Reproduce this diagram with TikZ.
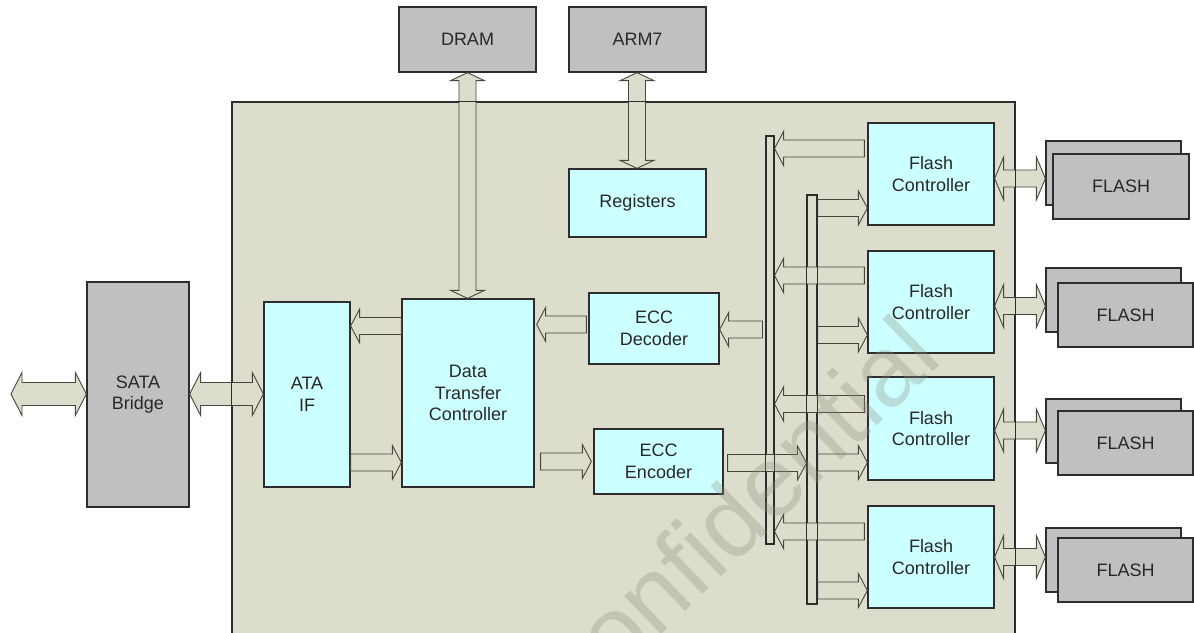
\documentclass[tikz,border=0pt]{standalone}
\usepackage{fontspec}
\setmainfont{Liberation Sans}
\usetikzlibrary{calc}
\definecolor{bgc}{RGB}{221,221,205}
\definecolor{grayf}{RGB}{192,192,192}
\definecolor{cyanf}{RGB}{204,255,255}
\definecolor{linec}{RGB}{45,45,45}
\definecolor{arrline}{RGB}{70,70,60}
\definecolor{txtc}{RGB}{40,40,40}
\definecolor{wmc}{RGB}{140,140,125}
\def\arS{8.5}\def\arH{17}\def\arL{9}
\newcommand\fatR[3]{\path[fat] let \p1=#1, \p2=#2, \p3=(0,#3) in
 (\x1,\y3+\arS pt) -- (\x2-\arL pt,\y3+\arS pt) -- (\x2-\arL pt,\y3+\arH pt) -- (\x2,\y3) -- (\x2-\arL pt,\y3-\arH pt) -- (\x2-\arL pt,\y3-\arS pt) -- (\x1,\y3-\arS pt) -- cycle;}
\newcommand\fatL[3]{\path[fat] let \p1=#1, \p2=#2, \p3=(0,#3) in
 (\x2,\y3+\arS pt) -- (\x1+\arL pt,\y3+\arS pt) -- (\x1+\arL pt,\y3+\arH pt) -- (\x1,\y3) -- (\x1+\arL pt,\y3-\arH pt) -- (\x1+\arL pt,\y3-\arS pt) -- (\x2,\y3-\arS pt) -- cycle;}
\newcommand\fatLR[3]{\path[fat] let \p1=#1, \p2=#2, \p3=(0,#3) in
 (\x1,\y3) -- (\x1+\arL pt,\y3+\arH pt) -- (\x1+\arL pt,\y3+\arS pt) -- (\x2-\arL pt,\y3+\arS pt) -- (\x2-\arL pt,\y3+\arH pt) -- (\x2,\y3) -- (\x2-\arL pt,\y3-\arH pt) -- (\x2-\arL pt,\y3-\arS pt) -- (\x1+\arL pt,\y3-\arS pt) -- (\x1+\arL pt,\y3-\arH pt) -- cycle;}
\newcommand\fatUD[3]{\path[fat] let \p1=#1, \p2=#2, \p3=(#3,0) in
 (\x3,\y1) -- (\x3+\arH pt,\y1-\arL pt) -- (\x3+\arS pt,\y1-\arL pt) -- (\x3+\arS pt,\y2+\arL pt) -- (\x3+\arH pt,\y2+\arL pt) -- (\x3,\y2) -- (\x3-\arH pt,\y2+\arL pt) -- (\x3-\arS pt,\y2+\arL pt) -- (\x3-\arS pt,\y1-\arL pt) -- (\x3-\arH pt,\y1-\arL pt) -- cycle;}
\begin{document}
\begin{tikzpicture}[x=1pt,y=-1pt,
  fat/.style={draw=arrline, fill=bgc, line width=0.9pt, line join=miter},
  box/.style={draw=linec, line width=1.3pt, inner sep=0pt, align=center, text=txtc,
    font=\fontsize{18}{21.6}\selectfont},
  gbox/.style={box, fill=grayf},
  cbox/.style={box, fill=cyanf},
  bar/.style={draw=linec, line width=1.1pt, inner sep=0pt},
  chip/.style={draw=linec, line width=1.3pt, fill=bgc, inner sep=0pt}]
\useasboundingbox (0,0) rectangle (1194,632);
\clip (0,0) rectangle (1194,632);
\fill[white] (0,0) rectangle (1194,632);
% main chip area
\node[chip, minimum width=783pt, minimum height=548pt] (chip) at (623.5,376) {};
% external boxes
\node[gbox, minimum width=102pt, minimum height=225pt] (sata) at (138,394.5) {SATA\\Bridge};
\node[gbox, minimum width=137pt, minimum height=65pt] (dram) at (467.5,39.5) {DRAM};
\node[gbox, minimum width=137pt, minimum height=65pt] (arm) at (637.5,39.5) {ARM7};
% internal boxes
\node[cbox, minimum width=86pt, minimum height=185pt] (ata) at (307,394.5) {ATA\\IF};
\node[cbox, minimum width=132pt, minimum height=188pt] (dtc) at (468,393) {Data\\Transfer\\Controller};
\node[cbox, minimum width=130pt, minimum height=71pt] (dec) at (654,328.5) {ECC\\Decoder};
\node[cbox, minimum width=129pt, minimum height=65pt] (enc) at (658.5,461.5) {ECC\\Encoder};
\node[cbox, minimum width=137pt, minimum height=68pt] (reg) at (637.5,203) {Registers};
% flash controllers
\node[cbox, minimum width=126pt, minimum height=102pt] (fc1) at (931,174) {Flash\\Controller};
\node[cbox, minimum width=126pt, minimum height=102pt] (fc2) at (931,302) {Flash\\Controller};
\node[cbox, minimum width=126pt, minimum height=103pt] (fc3) at (931,428.5) {Flash\\Controller};
\node[cbox, minimum width=126pt, minimum height=102pt] (fc4) at (931,557) {Flash\\Controller};
% flash chips (back and front)
\node[gbox, minimum width=135pt, minimum height=64pt] (fb1) at (1113.5,173) {};
\node[gbox, minimum width=136pt, minimum height=65pt] (ff1) at (1121,186.5) {FLASH};
\node[gbox, minimum width=135pt, minimum height=64pt] (fb2) at (1113.5,300) {};
\node[gbox, minimum width=135pt, minimum height=64pt] (ff2) at (1125.5,315) {FLASH};
\node[gbox, minimum width=135pt, minimum height=64pt] (fb3) at (1113.5,431) {};
\node[gbox, minimum width=135pt, minimum height=64pt] (ff3) at (1125.5,443) {FLASH};
\node[gbox, minimum width=135pt, minimum height=64pt] (fb4) at (1113.5,560) {};
\node[gbox, minimum width=135pt, minimum height=64pt] (ff4) at (1125.5,570) {FLASH};
% buses
\node[bar, minimum width=8pt, minimum height=408pt] (bus1) at (770,340) {};
\node[bar, minimum width=10pt, minimum height=409pt] (bus2) at (812,399.5) {};
\coordinate (ext) at (11,394);
% ---- arrows ----
\def\arS{11.5}\def\arH{21.5}\def\arL{11}
\fatLR{(ext)}{(sata.west)}{394}
\fatLR{(sata.east)}{(ata.west)}{394}
\def\arS{8.5}\def\arH{17}\def\arL{9}
\fatL{(ata.east)}{(dtc.west)}{326}
\fatR{(ata.east)}{(dtc.west)}{462.5}
\fatL{([xshift=2pt]dtc.east)}{([xshift=-2pt]dec.west)}{324.5}
\fatL{(dec.east)}{([xshift=-3pt]bus1.west)}{329.5}
\fatR{([xshift=6pt]dtc.east)}{([xshift=-2pt]enc.west)}{461.5}
\fatR{([xshift=4pt]enc.east)}{(bus2.west)}{463}
\fatL{(bus1.east)}{([xshift=-3pt]fc1.west)}{148.5}
\fatL{(bus1.east)}{([xshift=-3pt]fc2.west)}{275.5}
\fatL{(bus1.east)}{([xshift=-3pt]fc3.west)}{404}
\fatL{(bus1.east)}{([xshift=-3pt]fc4.west)}{531.5}
\fatR{(bus2.east)}{(fc1.west)}{208}
\fatR{(bus2.east)}{(fc2.west)}{335}
\fatR{(bus2.east)}{(fc3.west)}{462.5}
\fatR{(bus2.east)}{(fc4.west)}{590.5}
\def\arH{21.5}
\fatLR{(fc1.east)}{(fb1.west)}{178.5}
\fatLR{(fc2.east)}{(fb2.west)}{306}
\fatLR{(fc3.east)}{(fb3.west)}{430.5}
\fatLR{(fc4.east)}{(fb4.west)}{557}
\def\arH{17}\def\arL{8}
\fatUD{(dram.south)}{(dtc.north)}{467.5}
\fatUD{(arm.south)}{(reg.north)}{637}
% redraw outlines crossed by arrows
\draw[bar] (bus1.north west) rectangle (bus1.south east);
\draw[bar] (bus2.north west) rectangle (bus2.south east);
\draw[draw=linec, line width=1.3pt] (chip.north west) rectangle (chip.south east);
% watermark
\node[text=wmc, opacity=0.3, rotate=44, font=\fontsize{100}{100}\selectfont] (wm) at (730,519) {Confidential};
\end{tikzpicture}
\end{document}
